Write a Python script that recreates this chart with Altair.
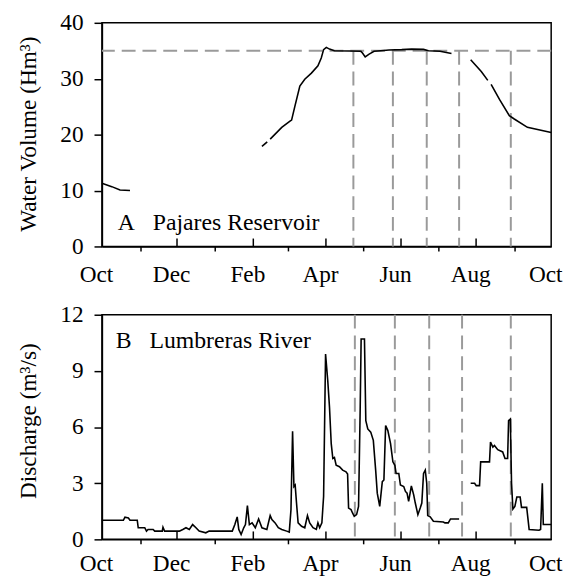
import altair as alt
import pandas as pd

START = pd.Timestamp("2009-10-01")
FONT = "Liberation Serif"

# ---- Panel A: Pajares Reservoir water volume (Hm3); None = gap in record
vol_days = [0, 8.0, 14.7, 22.8, None,
            130.0, 134.3, None,
            136.7, 146.1, 152.8, 154.1, 156.8, 160.8, 164.8, 170.2, 175.5, 178.2,
            180.1, 182.3, 184.9, 188.9, 201.0, 210.4, 211.7, 213.9, 217.1, 221.1,
            226.5, 233.2, 243.6, 251.6, 261.3, 265.3, 274.7, 284.0, None,
            299.6, 308.2, 313.5, None,
            316.2, 323.0, 331.0, 335.0, 345.7, 365.0]
vol_vals = [11.3, 10.7, 10.1, 10.0, None,
            17.9, 18.7, None,
            19.2, 21.3, 22.4, 22.6, 25.1, 28.7, 29.9, 31.0, 32.3, 33.7,
            35.2, 35.6, 35.3, 35.0, 34.95, 34.9, 34.6, 33.9, 34.4, 34.9,
            35.0, 35.15, 35.2, 35.3, 35.25, 35.0, 34.9, 34.5, None,
            33.4, 31.3, 29.7, None,
            29.0, 26.3, 23.4, 22.8, 21.3, 20.4]

# ---- Panel B: Lumbreras River discharge (m3/s)
q_days = [0, 17.4, 18.7, 21.5, 22.8, 28.7, 29.5, 34.8, 36.2, 37.5, 41.6, 42.9,
          49.0, 49.6, 50.9, 62.9, 65.7, 68.3, 71.0, 73.7, 76.4, 79.0, 84.4, 87.1,
          105.9, 108.0, 109.9, 111.2, 113.1, 115.2, 116.6, 118.2, 119.8, 122.0,
          124.6, 127.3, 130.0, 134.0, 136.7, 138.1, 140.7, 143.3, 146.1, 150.1,
          152.2, 153.6, 154.9, 156.0, 157.0, 158.1, 159.4, 162.2, 164.8, 167.0,
          168.8, 171.5, 174.2, 175.5, 176.9, 178.7, 180.1, 181.7, 183.5, 184.9,
          186.3, 187.6, 188.9, 190.3, 193.0, 195.6, 198.3, 199.6, 200.4, 202.4,
          203.6, 205.0, 206.9, 208.5, 209.8, 210.6, 213.3, 214.4, 216.0, 218.4,
          220.5, 222.4, 223.7, 225.7, 227.8, 229.1, 230.5, 232.3, 234.5, 236.4,
          238.0, 239.0, 241.2, 242.5, 245.2, 246.6, 247.9, 249.2, 251.4, 253.3,
          254.6, 256.7, 258.6, 259.9, 261.3, 262.7, 263.9, 264.7, 266.7, 269.3,
          277.4, 278.7, 281.4, 283.2, 290.2, None,
          299.6, 302.8, 304.1, 306.8, 307.7, 314.9, 315.7, 317.6, 318.9, 321.6,
          325.6, 327.5, 329.6, 330.4, 331.8, 332.8, 333.9, 335.5, 337.1, 339.8,
          340.9, 345.1, 347.1, 355.1, 356.4, 357.8, 358.6, 365.0]
q_vals = [1.02, 1.02, 1.18, 1.14, 1.02, 1.02, 0.62, 0.62, 0.44, 0.53, 0.53, 0.44,
          0.44, 0.65, 0.44, 0.44, 0.53, 0.62, 0.53, 0.79, 0.62, 0.44, 0.35, 0.44,
          0.44, 0.79, 1.2, 0.53, 0.26, 0.62, 0.79, 1.8, 0.79, 0.88,
          0.62, 1.09, 0.62, 0.53, 1.27, 1.06, 0.88, 0.62, 0.53, 0.44,
          0.39, 1.59, 5.78, 2.82, 2.9, 1.94, 0.88, 0.7, 0.62, 1.27,
          0.88, 0.62, 0.53, 0.88, 0.62, 0.88, 2.29, 9.9, 8.46, 7.05,
          5.11, 4.32, 4.37, 3.96, 3.88, 3.7, 3.61, 3.49, 1.67, 1.59,
          1.41, 1.23, 1.32, 1.76, 6.87, 10.7, 10.7, 6.34, 5.9, 5.73,
          5.29, 3.7, 2.47, 1.76, 3.08, 3.17, 6.08, 5.81, 5.11, 4.14,
          3.96, 3.52, 3.52, 2.9, 2.82, 2.56, 2.47, 2.03, 2.85, 2.38,
          1.94, 1.32, 1.67, 1.94, 3.52, 3.7, 3.0, 1.27, 1.2, 0.97,
          0.93, 0.88, 0.88, 1.09, 1.09, None,
          3.0, 3.0, 2.87, 2.87, 4.14, 4.14, 5.2, 4.93, 5.02, 4.79,
          4.67, 4.32, 4.32, 6.34, 6.43, 3.0, 1.62, 1.76, 2.26, 2.26,
          1.71, 1.71, 0.53, 0.49, 0.53, 3.0, 0.79, 0.79]

# sampling dates (days since 1 Oct) shown as dashed verticals
a_dash_days = [204.3, 236.4, 263.9, 290.2, 332.2]
b_dash_days = [205.5, 238.0, 265.9, 292.6, 332.2]
capacity = [35]

vol_ticks = [0, 10, 20, 30, 40]
q_ticks = [0, 3, 6, 9, 12]
label_a = "A\u00a0\u00a0\u00a0Pajares Reservoir"
label_b = "B\u00a0\u00a0\u00a0Lumbreras River"


def to_frame(days, vals):
    rows, seg = [], 0
    for d, v in zip(days, vals):
        if d is None:
            seg += 1
            continue
        rows.append({"date": START + pd.Timedelta(days=d), "value": v, "seg": seg})
    return pd.DataFrame(rows)


vol_df = to_frame(vol_days, vol_vals)
q_df = to_frame(q_days, q_vals)

months = pd.date_range("2009-10-01", "2010-10-01", freq="MS")
month_vals = [alt.DateTime(year=int(m.year), month=int(m.month), date=1) for m in months]
inner_ticks = pd.DataFrame({"date": [m for m in months[1:-1] if m.month % 2 == 0]})
domain = [month_vals[0], month_vals[-1]]

W = 454
HA = 226
HB = 227
DASH = "#9a9a9a"
FS = 23.5


def x_enc(field, pad):
    return alt.X(
        field, type="temporal", scale=alt.Scale(domain=domain),
        axis=alt.Axis(
            values=month_vals, title=None, grid=False,
            labelExpr="month(datum.value) % 2 == 1 ? timeFormat(datum.value, '%b') : ''",
            tickSize=4.5, tickWidth=1.5, tickColor="black",
            tickOpacity={"condition": {"test": "month(datum.value) % 2 == 0", "value": 1}, "value": 0},
            labelOffset=-6, labelPadding=pad, labelFlush=False, labelOverlap=False,
            labelAngle=0, labelFont=FONT, labelFontSize=FS, labelColor="black",
            domainColor="black", domainWidth=1.5,
        ),
    )


def y_enc(field, ticks, ymax, title, title_y):
    return alt.Y(
        field, type="quantitative", scale=alt.Scale(domain=[0, ymax]),
        axis=alt.Axis(
            values=ticks, title=title, grid=False,
            tickSize=8, tickWidth=1.5, tickColor="black",
            labelPadding=11, labelFont=FONT, labelFontSize=FS, labelColor="black",
            domainColor="black", domainWidth=1.5,
            titleFont=FONT, titleFontSize=FS, titleFontWeight="normal", titleColor="black",
            titlePadding=20, titleY=title_y,
        ),
    )


def panel(df, ticks, ymax, title, title_y, dash_days, label, label_x, label_y, h, pad, top_cut):
    X = lambda f: x_enc(f, pad)
    Y = lambda f: y_enc(f, ticks, ymax, title, title_y)
    dash_df = pd.DataFrame({
        "date": [START + pd.Timedelta(days=d) for d in dash_days],
        "top": [top_cut if top_cut is not None else ymax] * len(dash_days),
        "bottom": [0] * len(dash_days),
    })
    layers = [
        alt.Chart(dash_df).mark_rule(color=DASH, strokeWidth=2, strokeDash=[14, 7]).encode(
            x=X("date"), y=Y("top"), y2="bottom:Q")
    ]
    if top_cut is not None:
        layers.append(
            alt.Chart(pd.DataFrame({"value": capacity})).mark_rule(
                color=DASH, strokeWidth=2, strokeDash=[14, 7]).encode(y=Y("value")))
    layers.append(
        alt.Chart(df).mark_line(color="black", strokeWidth=1.6).encode(
            x=X("date"), y=Y("value"), detail="seg:N"))
    layers.append(
        alt.Chart(inner_ticks).mark_rule(color="black", strokeWidth=1.5).encode(
            x=X("date"), y=alt.value(h), y2=alt.value(h - 8)))
    layers.append(
        alt.Chart(pd.DataFrame({"t": [label]})).mark_text(
            align="left", baseline="alphabetic", font=FONT, fontSize=24, color="black").encode(
            text="t:N", x=alt.value(label_x), y=alt.value(label_y)))
    return alt.layer(*layers).properties(width=W, height=h)


top = panel(vol_df, vol_ticks, 40, "Water Volume (Hm³)", 112, a_dash_days, label_a, 16, 209, HA, 12, 35)
bottom = panel(q_df, q_ticks, 12, "Discharge (m³/s)", 107, b_dash_days, label_b, 14, 34, HB, 8, None)

chart = alt.vconcat(top, bottom, spacing=15).properties(
    padding={"left": 15, "top": 7, "right": 5, "bottom": 0},
    background="white",
).configure_view(stroke="black", strokeWidth=1.5)

chart.save("out.html", embed_options={"renderer": "svg", "actions": False})
